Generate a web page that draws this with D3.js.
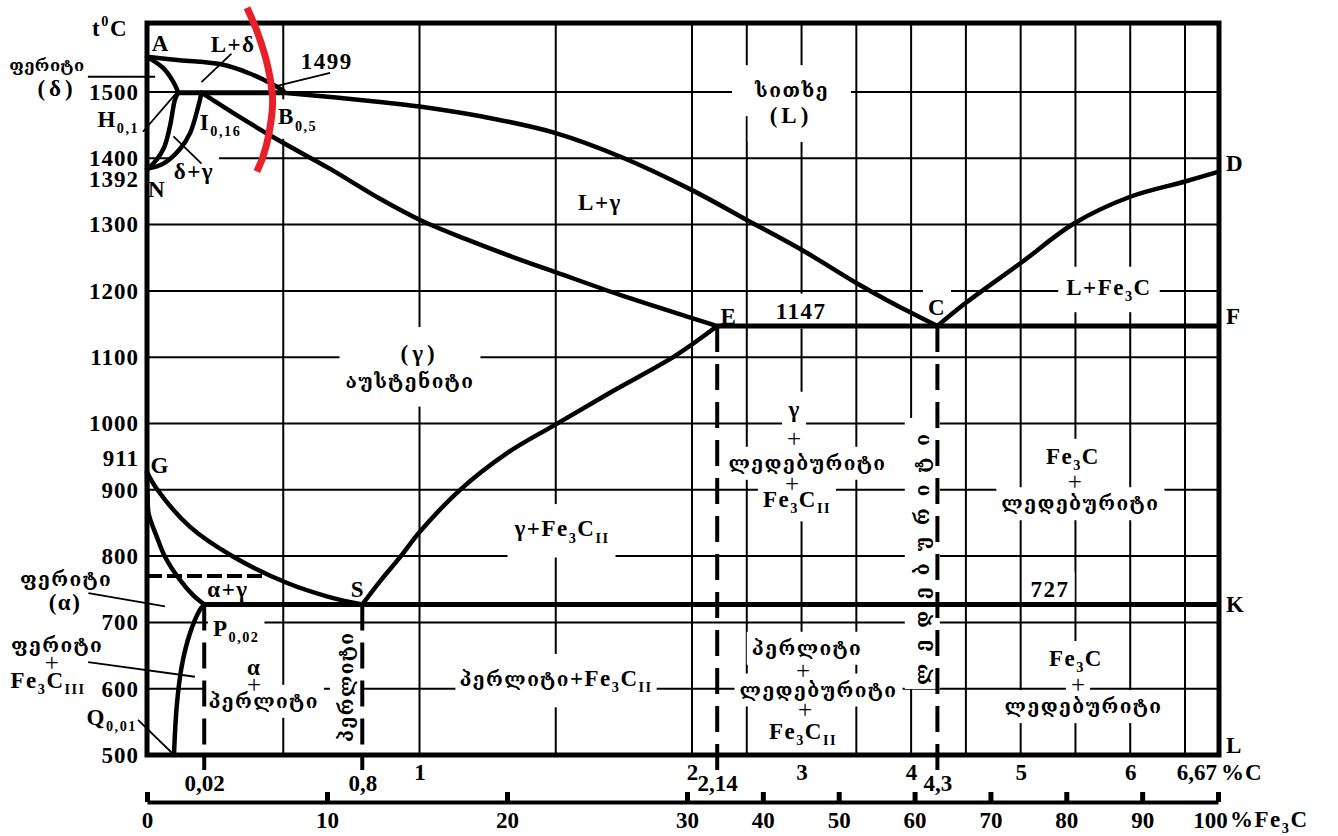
<!DOCTYPE html>
<html>
<head>
<meta charset="utf-8">
<script src="https://cdn.jsdelivr.net/npm/d3@7"></script>
<style>
  body { margin: 0; background: #fff; }
</style>
</head>
<body>
<svg id="chart" width="1338" height="836"></svg>
<script>
// Fe-Fe3C diagram. The original is schematic: the low carbon corner and the
// E / C points are drawn out of scale, so %C values below are the positions
// read off the drawing grid, not the nominal compositions printed as labels.

const tempTicks = [500, 600, 700, 800, 900, 1000, 1100, 1200, 1300, 1400, 1500];
const extraTemps = [[911, -24], [1392, 16]];          // value, nudge (px)
const gridC = [0.5, 1, 1.5, 2, 2.5, 3, 3.5, 4, 4.5, 5, 5.5, 6, 6.5];
const carbonTicks = [1, 2, 3, 4, 5, 6];
const keyC = [0.21, 0.79, 2.23, 4.24];
const keyCLabels = ['0,02', '0,8', '2,14', '4,3'];
const keyCTop = [727, 727, 1147, 1147];
const fe3cTicks = [0, 10, 20, 30, 40, 50, 60, 70, 80, 90, 100];

const C_MAX = 6.67;
const T_TOP = 1604;

// phase lines  [%C, t°C]
const curveAB = [[0, 1553], [0.12, 1548], [0.28, 1541], [0.37, 1529], [0.45, 1514], [0.5, 1502]];
const curveAH = [[0, 1553], [0.06, 1536], [0.097, 1515], [0.115, 1499]];
const curveHN = [[0.115, 1499], [0.103, 1489], [0.084, 1448], [0.06, 1414], [0.011, 1387], [0, 1384]];
const curveIN = [[0.2, 1499], [0.188, 1478], [0.158, 1438], [0.121, 1414], [0.06, 1392], [0, 1384]];
const lineHB = [[0.115, 1499], [0.5, 1499]];
const curveBC = [[0.5, 1499], [0.855, 1485], [1, 1478], [1.28, 1459], [1.5, 1438], [1.74, 1402],
                 [2, 1352], [2.5, 1307], [3, 1262], [3.5, 1212], [3.78, 1186], [4, 1167], [4.24, 1147]];
const curveIE = [[0.2, 1499], [0.341, 1462], [0.488, 1426], [0.672, 1384], [0.855, 1339], [1.002, 1307],
                 [1.171, 1278], [1.343, 1251], [1.501, 1228], [1.736, 1194], [2, 1159], [2.23, 1147]];
const curveCD = [[4.24, 1147], [4.5, 1182], [5, 1242], [5.49, 1302], [6, 1342], [6.5, 1365], [6.67, 1380]];
const curveES = [[2.23, 1147], [1.938, 1102], [1.71, 1049], [1.497, 998], [1.32, 955], [1.149, 900],
                 [1.002, 837], [0.928, 798], [0.855, 762], [0.79, 727]];
const curveGS = [[0, 927], [0.035, 902], [0.158, 844], [0.317, 799], [0.517, 759], [0.663, 739], [0.79, 727]];
const curveGP = [[0, 927], [0.002, 890], [0.006, 864], [0.036, 829], [0.066, 799], [0.121, 764], [0.169, 741], [0.21, 727]];
const curvePQ = [[0.21, 727], [0.194, 719], [0.158, 684], [0.127, 633], [0.109, 573], [0.099, 500]];
const lineECF = [[2.23, 1147], [C_MAX, 1147]];
const linePSK = [[0.21, 727], [C_MAX, 727]];
const lineCurie = [[0, 770], [0.44, 770]];

const leaders = [
  [[-0.217, 1523], [0.03, 1523]],
  [[-0.015, 1440], [0.109, 1499]],
  [[0.097, 1433], [0.2, 1392]],
  [[0.2, 1515], [0.31, 1558]],
  [[0.444, 1506], [0.672, 1529]],
  [[-0.215, 744], [0.066, 724]],
  [[-0.216, 640], [0.176, 618]],
  [[-0.033, 553], [0.092, 503]]
];

const redArc = [[0.367, 1627], [0.407, 1588], [0.444, 1537], [0.461, 1488], [0.448, 1438], [0.426, 1403], [0.403, 1380]];

// labels: [%C, t°C, text, options]
const labelGroups = [
  { items: [[-0.367, 1542, 'ფერიტი', { fs: 20, ls: 0.5 }], [-0.33, 1506, '(δ)', { ls: 4 }]] },
  { items: [[-0.297, 767, 'ფერიტი'], [-0.301, 731, '(α)']] },
  { items: [[-0.33, 667, 'ფერიტი'], [-0.349, 640, '+'], [-0.363, 613, 'Fe_{3}C_{III}']] },
  { items: [[-0.029, 1459, 'H_{0,1}', { anchor: 'end' }], [-0.037, 557, 'Q_{0,01}', { anchor: 'end' }]] },
  { items: [[0.051, 1573, 'A'], [0.316, 1572, 'L+δ'], [0.66, 1546, '1499'], [0.172, 1381, 'δ+γ'], [0.037, 1353, 'N']] },
  { items: [[0.481, 1463, 'B_{0,5}', { anchor: 'start' }], [0.194, 1455, 'I_{0,16}', { anchor: 'start' }]] },
  { pad: [22, 14], items: [[2.913, 1504, 'სითხე'], [2.904, 1465, '(L)', { ls: 4 }]] },
  { items: [[1.662, 1334, 'L+γ']] },
  { pad: [8, 8], items: [[5.806, 1206, 'L+Fe_{3}C']] },
  { items: [[2.338, 1162, 'E'], [2.995, 1170, '1147'], [4.236, 1176, 'C']] },
  { items: [[6.705, 1392, 'D', { anchor: 'start' }], [6.705, 1162, 'F', { anchor: 'start' }],
            [6.705, 727, 'K', { anchor: 'start' }], [6.705, 515, 'L', { anchor: 'start' }]] },
  { pad: [6, 14], items: [[1.0, 1106, '(γ)', { ls: 4 }], [0.965, 1066, 'აუსტენიტი']] },
  { pad: [6, 12], items: [[1.523, 842, 'γ+Fe_{3}C_{II}']] },
  { items: [[0.048, 937, 'G'], [0.297, 750, 'α+γ'], [0.774, 750, 'S'], [0.242, 692, 'P_{0,02}', { anchor: 'start' }]] },
  { items: [[0.393, 633, 'α'], [0.393, 607, '+'], [0.428, 583, 'პერლიტი']] },
  { items: [[0.727, 603, 'პერლიტი', { rot: -90 }]] },
  { pad: [4, 12], items: [[1.501, 616, 'პერლიტი+Fe_{3}C_{II}']] },
  { items: [[2.936, 1022, 'γ'], [2.931, 977, '+'], [3.054, 942, 'ლედებურიტი'], [2.913, 909, '+'], [2.958, 886, 'Fe_{3}C_{II}']] },
  { items: [[5.477, 951, 'Fe_{3}C'], [5.495, 912, '+'], [5.545, 881, 'ლედებურიტი']] },
  { items: [[5.268, 750, '727']] },
  { items: [[3.05, 663, 'პერლიტი'], [3.013, 627, '+'], [3.155, 600, 'ლედებურიტი'], [3.031, 569, '+'], [3.013, 536, 'Fe_{3}C_{II}']] },
  { items: [[5.505, 646, 'Fe_{3}C'], [5.523, 607, '+'], [5.574, 575, 'ლედებურიტი']] },
  { pad: [4, 6], items: [[4.09, 804, 'ლედებურიტი', { rot: -90, ls: 12 }]] }
];

// ---- drawing ----
const FONT = '"Liberation Serif", "Times New Roman", serif';
const GEO_FONT = '"DejaVu Serif", "DejaVu Sans", sans-serif';
const SIZE = 23;
const GEO = /[\u10D0-\u10FF]/;

const svg = d3.select('#chart');
svg.append('rect').attr('width', 1338).attr('height', 836).attr('fill', '#fff');

// carbon scale is broken at 2 % (steel part stretched)
const x = d3.scaleLinear().domain([0, 2, 6.5, C_MAX]).range([147, 692, 1185, 1219]);
const y = d3.scaleLinear().domain([500, 1500]).range([755, 92]);
const xFe = d3.scaleLinear().domain([0, 30, 100]).range([147, 687, 1218]);

const gGrid = svg.append('g');
const gKnock = svg.append('g');
const gLines = svg.append('g');
const gLead = svg.append('g');
const gText = svg.append('g').attr('font-family', FONT).attr('font-weight', 'bold').attr('fill', '#000');

// grid
gGrid.selectAll('line.v').data(gridC).join('line').attr('class', 'v')
  .attr('x1', d => x(d)).attr('x2', d => x(d))
  .attr('y1', y(500)).attr('y2', y(T_TOP))
  .attr('stroke', '#000').attr('stroke-width', 2);
gGrid.selectAll('line.h').data(tempTicks.slice(1)).join('line').attr('class', 'h')
  .attr('x1', x(0)).attr('x2', x(C_MAX))
  .attr('y1', d => y(d)).attr('y2', d => y(d))
  .attr('stroke', '#000').attr('stroke-width', 2);

const line = d3.line().x(d => x(d[0])).y(d => y(d[1]));
const smooth = d3.line().x(d => x(d[0])).y(d => y(d[1])).curve(d3.curveCatmullRom.alpha(0.5));

// dashed verticals from key points, with short ticks below the frame
keyC.forEach((c, i) => {
  gLines.append('line')
    .attr('x1', x(c)).attr('x2', x(c)).attr('y1', y(keyCTop[i])).attr('y2', y(500))
    .attr('stroke', '#000').attr('stroke-width', 4).attr('stroke-dasharray', '26 12');
  gLines.append('line')
    .attr('x1', x(c)).attr('x2', x(c)).attr('y1', y(500)).attr('y2', y(500) + 15)
    .attr('stroke', '#000').attr('stroke-width', 4);
});

gLines.append('path').attr('d', line(lineCurie))
  .attr('fill', 'none').attr('stroke', '#000').attr('stroke-width', 4).attr('stroke-dasharray', '15 5');

// frame
gLines.append('rect')
  .attr('x', x(0)).attr('y', y(T_TOP))
  .attr('width', x(C_MAX) - x(0)).attr('height', y(500) - y(T_TOP))
  .attr('fill', 'none').attr('stroke', '#000').attr('stroke-width', 5);

[lineECF, linePSK, lineHB].forEach(d => {
  gLines.append('path').attr('d', line(d))
    .attr('fill', 'none').attr('stroke', '#000').attr('stroke-width', 5);
});
[curveAB, curveAH, curveHN, curveIN, curveBC, curveIE, curveCD, curveES, curveGS, curveGP, curvePQ].forEach(d => {
  gLines.append('path').attr('d', smooth(d))
    .attr('fill', 'none').attr('stroke', '#000').attr('stroke-width', 4.5)
    .attr('stroke-linejoin', 'round').attr('stroke-linecap', 'round');
});

gLead.selectAll('path').data(leaders).join('path')
  .attr('d', d => line(d)).attr('fill', 'none')
  .attr('stroke', '#000').attr('stroke-width', 1.8);

// text with _{sub} / ^{sup} and georgian runs
function rich(text, str, size, opts) {
  let shift = 0;
  str.split(/(_\{[^}]*\}|\^\{[^}]*\})/).filter(s => s).forEach(tok => {
    let body = tok, fs = size, off = 0;
    if (tok[0] === '_') { body = tok.slice(2, -1); fs = size * 0.62; off = size * 0.28; }
    else if (tok[0] === '^') { body = tok.slice(2, -1); fs = size * 0.62; off = -size * 0.42; }
    body.split(/([\u10D0-\u10FF]+)/).filter(s => s).forEach((run, i) => {
      const ts = text.append('tspan').text(run).attr('dy', i === 0 ? off - shift : 0);
      if (GEO.test(run)) {
        ts.attr('font-family', GEO_FONT).attr('font-size', size * 0.83)
          .attr('letter-spacing', opts.ls != null ? opts.ls : 1.5);
      } else {
        ts.attr('font-size', fs).attr('letter-spacing', opts.ls != null ? opts.ls : 1.5);
      }
    });
    shift = off;
  });
}

function addLabel(item, pad) {
  const [c, t, str, opts = {}] = item;
  const plus = str === '+';
  const size = opts.fs || (plus ? 25 : SIZE);
  const tf = `translate(${x(c)},${y(t)}) rotate(${opts.rot || 0})`;
  const g = gText.append('g').attr('transform', tf);
  const text = g.append('text')
    .attr('y', size * 0.34)
    .attr('text-anchor', opts.anchor || 'middle')
    .attr('font-size', size)
    .attr('font-weight', plus ? 'normal' : null);
  rich(text, str, size, plus ? { ls: 0 } : opts);
  const b = text.node().getBBox();
  gKnock.append('rect').attr('transform', tf)
    .attr('x', b.x - pad[0]).attr('y', b.y - pad[1])
    .attr('width', b.width + 2 * pad[0]).attr('height', b.height + 2 * pad[1])
    .attr('fill', '#fff');
}

labelGroups.forEach(grp => grp.items.forEach(it => addLabel(it, grp.pad || [5, 5])));

// temperature axis
const gT = gText.append('g').attr('transform', `translate(${x(0)},0)`)
  .call(d3.axisLeft(y).tickValues(tempTicks).tickSize(0).tickPadding(8).tickFormat(d3.format('d')));
gT.select('.domain').remove();
gT.attr('font-family', FONT).attr('font-size', SIZE).attr('font-weight', 'bold');
gT.selectAll('text').attr('letter-spacing', 1);

gText.selectAll('text.extra').data(extraTemps).join('text').attr('class', 'extra')
  .attr('x', x(0) - 8).attr('y', d => y(d[0]) + d[1] + SIZE * 0.34)
  .attr('text-anchor', 'end').attr('font-size', SIZE).attr('letter-spacing', 1)
  .text(d => d[0]);

const tLabel = gText.append('text').attr('x', 128).attr('y', y(T_TOP) + 5 + SIZE * 0.34)
  .attr('text-anchor', 'end').attr('font-size', SIZE);
rich(tLabel, 't^{0}C', SIZE, {});

// carbon labels below the frame
const gC = gText.append('g').attr('transform', `translate(0,${y(500)})`)
  .call(d3.axisBottom(x).tickValues(carbonTicks).tickSize(0).tickPadding(9).tickFormat(d3.format('d')));
gC.select('.domain').remove();
gC.attr('font-family', FONT).attr('font-size', SIZE).attr('font-weight', 'bold');

const gK = gText.append('g').attr('transform', `translate(0,${y(500)})`)
  .call(d3.axisBottom(x).tickValues(keyC).tickSize(0).tickPadding(20).tickFormat((d, i) => keyCLabels[i]));
gK.select('.domain').remove();
gK.attr('font-family', FONT).attr('font-size', SIZE).attr('font-weight', 'bold');

gText.append('text').attr('x', x(C_MAX) - 2).attr('y', y(500) + 17 + SIZE * 0.34)
  .attr('text-anchor', 'end').attr('font-size', SIZE).text('6,67');
gText.append('text').attr('x', x(C_MAX) + 2).attr('y', y(500) + 17 + SIZE * 0.34)
  .attr('font-size', SIZE).attr('letter-spacing', 1).text('%C');

// Fe3C scale
const gFe = gText.append('g').attr('transform', `translate(0,${y(500) + 47})`)
  .call(d3.axisBottom(xFe).tickValues(fe3cTicks).tickSize(-10).tickSizeOuter(0).tickPadding(10).tickFormat(d3.format('d')));
gFe.attr('font-family', FONT).attr('font-size', SIZE).attr('font-weight', 'bold');
gFe.select('.domain').attr('stroke', '#000').attr('stroke-width', 4);
gFe.selectAll('.tick line').attr('stroke', '#000').attr('stroke-width', 5);
gFe.selectAll('.tick text').filter(d => d === 100).attr('dx', -8);
const feLabel = gText.append('text').attr('x', xFe(100) + 12).attr('y', y(500) + 64 + SIZE * 0.34)
  .attr('font-size', SIZE);
rich(feLabel, '%Fe_{3}C', SIZE, { ls: 1.5 });

// red mark over the peritectic
svg.append('path').attr('d', smooth(redArc))
  .attr('fill', 'none').attr('stroke', '#e8202a').attr('stroke-width', 7).attr('stroke-linecap', 'butt');
</script>
</body>
</html>
